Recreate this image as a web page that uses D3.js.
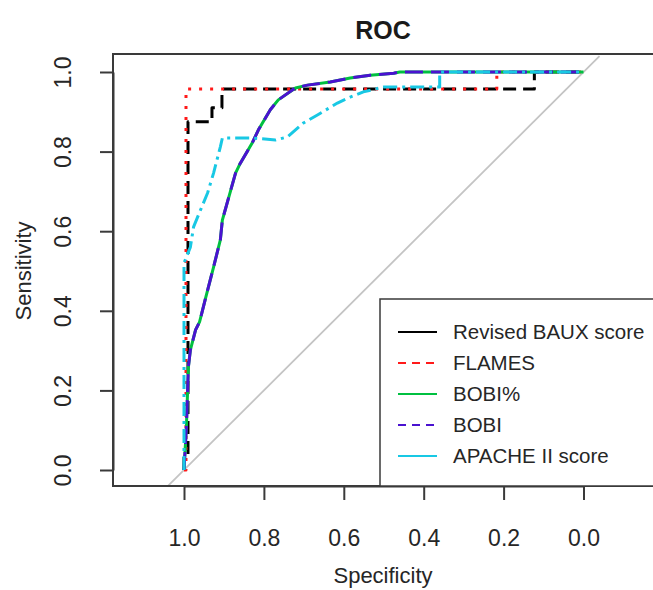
<!DOCTYPE html>
<html>
<head>
<meta charset="utf-8">
<script src="https://cdn.jsdelivr.net/npm/d3@7"></script>
<style>
  html, body { margin: 0; padding: 0; background: #fff; }
  svg { display: block; font-family: "Liberation Sans", Arial, sans-serif; }
</style>
</head>
<body>
<div id="chart"></div>
<script>
// --- data: ROC points (specificity, sensitivity) ---
const tickValues = [0, 0.2, 0.4, 0.6, 0.8, 1.0];

const bauxSpec = [1, 1, 0.99, 0.99, 0.93, 0.93, 0.905, 0.905, 0.123, 0.123, 0];
const bauxSens = [0, 0.04, 0.04, 0.875, 0.875, 0.91, 0.91, 0.957, 0.957, 1, 1];

const flamesSpec = [1, 0.995, 0.995, 0.217, 0.217, 0];
const flamesSens = [0, 0, 0.957, 0.957, 1, 1];

const bobiPctSpec = [1, 0.994, 0.989, 0.984, 0.971, 0.961, 0.946, 0.926, 0.909, 0.904, 0.871, 0.859, 0.829, 0.814, 0.784, 0.764, 0.721, 0.691, 0.634, 0.584, 0.534, 0.475, 0.46, 0];
const bobiPctSens = [0, 0.108, 0.259, 0.302, 0.352, 0.372, 0.432, 0.51, 0.578, 0.628, 0.746, 0.771, 0.822, 0.854, 0.905, 0.93, 0.96, 0.967, 0.975, 0.985, 0.992, 0.997, 1, 1];

const bobiSpec = [1, 0.994, 0.989, 0.984, 0.971, 0.961, 0.946, 0.926, 0.909, 0.904, 0.871, 0.859, 0.829, 0.814, 0.784, 0.764, 0.721, 0.691, 0.634, 0.584, 0.534, 0.475, 0.46, 0];
const bobiSens = [0, 0.108, 0.259, 0.302, 0.352, 0.372, 0.432, 0.51, 0.578, 0.628, 0.746, 0.771, 0.822, 0.854, 0.905, 0.93, 0.96, 0.967, 0.975, 0.985, 0.992, 0.997, 1, 1];

const apacheSpec = [1, 1, 0.984, 0.976, 0.941, 0.926, 0.909, 0.904, 0.826, 0.771, 0.741, 0.701, 0.666, 0.616, 0.584, 0.551, 0.501, 0.36, 0.36, 0];
const apacheSens = [0, 0.52, 0.56, 0.611, 0.696, 0.746, 0.812, 0.834, 0.834, 0.829, 0.837, 0.872, 0.892, 0.922, 0.937, 0.95, 0.962, 0.962, 1, 1];

const legendLabels = ["Revised BAUX score", "FLAMES", "BOBI%", "BOBI", "APACHE II score"];

// --- styles for each curve (plot) and legend sample ---
const series = [
  { spec: bauxSpec,    sens: bauxSens,    color: "#000000", dash: "13,7",     legendDash: null },
  { spec: flamesSpec,  sens: flamesSens,  color: "#ff1a1a", dash: "3,8",      legendDash: "8,6" },
  { spec: bobiPctSpec, sens: bobiPctSens, color: "#00c040", dash: null,       legendDash: null },
  { spec: bobiSpec,    sens: bobiSens,    color: "#4a12d0", dash: "18,8",     legendDash: "8,6" },
  { spec: apacheSpec,  sens: apacheSens,  color: "#18c8e4", dash: "14,5,3,5", legendDash: null }
];

const W = 653, H = 590;
const box = { left: 113, right: 654, top: 54, bottom: 486 };

const svg = d3.select("#chart").append("svg")
  .attr("width", W)
  .attr("height", H);

// 1. scales (specificity axis is reversed)
const x = d3.scaleLinear().domain([1, 0]).range([184, 583.5]);
const y = d3.scaleLinear().domain([0, 1]).range([470, 72]);

// 2. diagonal reference line across the plot region
svg.append("line")
  .attr("x1", x(1.04)).attr("y1", y(-0.04))
  .attr("x2", x(-0.04)).attr("y2", y(1.04))
  .attr("stroke", "#c4c4c4")
  .attr("stroke-width", 1.8);

// 3. curves
const line = d3.line()
  .x(d => x(d[0]))
  .y(d => y(d[1]));

series.forEach(s => {
  const pts = s.spec.map((v, i) => [v, s.sens[i]]);
  svg.append("path")
    .datum(pts)
    .attr("d", line)
    .attr("fill", "none")
    .attr("stroke", s.color)
    .attr("stroke-width", 3)
    .attr("stroke-dasharray", s.dash)
    .attr("stroke-linejoin", "round");
});

// 4. box
svg.append("rect")
  .attr("x", box.left).attr("y", box.top)
  .attr("width", box.right - box.left)
  .attr("height", box.bottom - box.top)
  .attr("fill", "none")
  .attr("stroke", "#3a3a3a")
  .attr("stroke-width", 2);

// 5. axes
const fmt = d3.format(".1f");

const xAxis = svg.append("g")
  .attr("transform", `translate(0,${box.bottom})`)
  .call(d3.axisBottom(x).tickValues(tickValues).tickFormat(fmt).tickSize(14).tickSizeOuter(0).tickPadding(30));

const yAxis = svg.append("g")
  .attr("transform", `translate(${box.left},0)`)
  .call(d3.axisLeft(y).tickValues(tickValues).tickFormat(fmt).tickSize(13).tickSizeOuter(0));

[xAxis, yAxis].forEach(g => {
  g.select(".domain").attr("stroke", "#3a3a3a").attr("stroke-width", 2);
  g.selectAll(".tick line").attr("stroke", "#3a3a3a").attr("stroke-width", 2);
  g.selectAll("text").attr("fill", "#262626").attr("font-size", 23)
    .attr("font-family", "Liberation Sans, Arial, sans-serif");
});

// y tick labels rotated like R
yAxis.selectAll(".tick text")
  .attr("x", 0).attr("y", -42).attr("dy", null)
  .attr("text-anchor", "middle")
  .attr("transform", "rotate(-90)");

// 6. titles
svg.append("text")
  .attr("x", 383).attr("y", 39)
  .attr("text-anchor", "middle")
  .attr("font-size", 25).attr("font-weight", "bold")
  .attr("fill", "#1a1a1a")
  .text("ROC");

svg.append("text")
  .attr("x", 383).attr("y", 583)
  .attr("text-anchor", "middle")
  .attr("font-size", 22).attr("fill", "#262626")
  .text("Specificity");

svg.append("text")
  .attr("transform", `translate(31,${(y(0) + y(1)) / 2}) rotate(-90)`)
  .attr("text-anchor", "middle")
  .attr("font-size", 22).attr("fill", "#262626")
  .text("Sensitivity");

// 7. legend
const legend = svg.append("g");
legend.append("rect")
  .attr("x", 380).attr("y", 299)
  .attr("width", 274).attr("height", box.bottom - 299)
  .attr("fill", "#fff")
  .attr("stroke", "#3a3a3a")
  .attr("stroke-width", 1.5);

const legendY = d3.scalePoint().domain(legendLabels).range([332, 456]);

legendLabels.forEach((lab, i) => {
  const s = series[i];
  const yy = legendY(lab);
  legend.append("line")
    .attr("x1", 398).attr("x2", 437)
    .attr("y1", yy).attr("y2", yy)
    .attr("stroke", s.color)
    .attr("stroke-width", 2)
    .attr("stroke-dasharray", s.legendDash);
  legend.append("text")
    .attr("x", 453).attr("y", yy)
    .attr("dy", "0.35em")
    .attr("font-size", 20.5)
    .attr("fill", "#262626")
    .text(lab);
});
</script>
</body>
</html>
